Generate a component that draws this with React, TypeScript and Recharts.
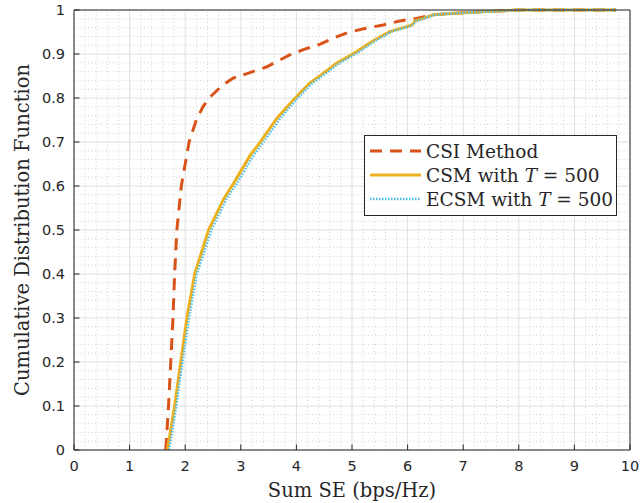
import React from "react";
import {
  LineChart,
  Line,
  XAxis,
  YAxis,
  CartesianGrid,
  ReferenceLine,
  Legend,
} from "recharts";

// CDF samples
const csiX = [1.65, 1.7, 1.74, 1.78, 1.81, 1.85, 1.89, 1.93, 2.0, 2.07, 2.2, 2.32, 2.43, 2.68, 2.86, 3.1, 3.47, 3.88, 4.15, 4.42, 4.66, 4.93, 5.23, 5.56, 5.86, 6.16, 6.46, 7.0, 7.5, 8.0, 9.75];
const csiY = [0, 0.1, 0.2, 0.3, 0.4, 0.5, 0.55, 0.6, 0.65, 0.7, 0.75, 0.78, 0.8, 0.83, 0.845, 0.855, 0.871, 0.898, 0.911, 0.922, 0.936, 0.949, 0.958, 0.966, 0.975, 0.981, 0.989, 0.994, 0.997, 1, 1];

const csmX = [1.68, 1.81, 1.92, 2.03, 2.17, 2.42, 2.69, 2.87, 3.17, 3.35, 3.65, 3.94, 4.06, 4.24, 4.48, 4.72, 4.93, 5.08, 5.38, 5.68, 5.98, 6.08, 6.13, 6.28, 6.46, 7.0, 7.5, 8.0, 9.75];
const csmY = [0, 0.1, 0.2, 0.3, 0.4, 0.5, 0.57, 0.606, 0.67, 0.7, 0.754, 0.795, 0.811, 0.834, 0.856, 0.879, 0.894, 0.905, 0.93, 0.951, 0.962, 0.966, 0.975, 0.981, 0.989, 0.994, 0.997, 1, 1];

const ecsmX = [1.71, 1.84, 1.95, 2.07, 2.21, 2.47, 2.74, 2.93, 3.23, 3.41, 3.71, 3.99, 4.11, 4.29, 4.53, 4.77, 4.98, 5.13, 5.42, 5.72, 6.01, 6.1, 6.15, 6.3, 6.48, 7.02, 7.5, 8.0, 9.75];
const ecsmY = [0, 0.1, 0.2, 0.3, 0.4, 0.5, 0.57, 0.606, 0.67, 0.7, 0.754, 0.795, 0.811, 0.834, 0.856, 0.879, 0.894, 0.905, 0.93, 0.951, 0.962, 0.966, 0.975, 0.981, 0.989, 0.994, 0.997, 1, 1];

const seriesNames = ["CSI Method", "CSM with T = 500", "ECSM with T = 500"];

const xTicks = [0, 1, 2, 3, 4, 5, 6, 7, 8, 9, 10];
const yTicks = [0, 0.1, 0.2, 0.3, 0.4, 0.5, 0.6, 0.7, 0.8, 0.9, 1];

const toPoints = (xs: number[], ys: number[]) =>
  xs.map((x, i) => ({ x, y: ys[i] }));

const series = [
  { name: seriesNames[0], data: toPoints(csiX, csiY), color: "#D95319", width: 3, dash: "12 8" },
  { name: seriesNames[1], data: toPoints(csmX, csmY), color: "#EDB120", width: 3, dash: undefined },
  { name: seriesNames[2], data: toPoints(ecsmX, ecsmY), color: "#4DBEEE", width: 2.5, dash: "1.5 1.5" },
];

// minor grid (MATLAB style dotted)
const minorX = Array.from({ length: 50 }, (_, i) => i)
  .filter((i) => i % 5 !== 0)
  .map((i) => +(i * 0.2).toFixed(2));
const minorY = Array.from({ length: 50 }, (_, i) => i)
  .filter((i) => i % 5 !== 0)
  .map((i) => +(i * 0.02).toFixed(2));

const AXIS = "#262626";
const TICK = 5.5;
const tickFont = { fontFamily: "DejaVu Sans", fontSize: 14.5, fill: AXIS };
const labelFont = { fontFamily: "DejaVu Serif", fontSize: 19.5, fill: AXIS };
const legendFont = { fontFamily: "DejaVu Serif", fontSize: 18.5, fill: AXIS };

const fmt = (v: number) => String(+v.toFixed(1));

const BottomTick = ({ x, y, payload }: any) => (
  <g>
    <line x1={x} x2={x} y1={y} y2={y - TICK} stroke={AXIS} />
    <text x={x} y={y + 21} textAnchor="middle" {...tickFont}>
      {fmt(payload.value)}
    </text>
  </g>
);

const LeftTick = ({ x, y, payload }: any) => (
  <g>
    <line x1={x} x2={x + TICK} y1={y} y2={y} stroke={AXIS} />
    <text x={x - 9} y={y + 5.3} textAnchor="end" {...tickFont}>
      {fmt(payload.value)}
    </text>
  </g>
);

const TopTick = ({ x, y }: any) => (
  <line x1={x} x2={x} y1={y} y2={y + TICK} stroke={AXIS} />
);

const RightTick = ({ x, y }: any) => (
  <line x1={x} x2={x - TICK} y1={y} y2={y} stroke={AXIS} />
);

const renderName = (name: string) =>
  name.split(/(\bT\b)/).map((part, i) =>
    part === "T" ? (
      <tspan key={i} fontStyle="italic">
        {part}
      </tspan>
    ) : (
      <tspan key={i}>{part}</tspan>
    )
  );

const LegendBox = () => (
  <svg width={254} height={82} style={{ display: "block" }}>
    <rect x={0.5} y={0.5} width={252} height={80} fill="#fff" stroke={AXIS} />
    {series.map((s, i) => {
      const cy = 16 + i * 24;
      return (
        <g key={s.name}>
          <line
            x1={6}
            x2={57}
            y1={cy}
            y2={cy}
            stroke={s.color}
            strokeWidth={s.width}
            strokeDasharray={s.dash}
          />
          <text x={62} y={cy + 7} {...legendFont}>
            {renderName(s.name)}
          </text>
        </g>
      );
    })}
  </svg>
);

export default function App() {
  return (
    <div style={{ width: 641, height: 503 }}>
      <style>{"body{margin:0}"}</style>
      <LineChart
        width={641}
        height={503}
        margin={{ top: 9, right: 10, bottom: 0, left: 0 }}
      >
        <CartesianGrid xAxisId="b" yAxisId="l" stroke="#e0e0e0" />
        {minorX.map((v) => (
          <ReferenceLine
            key={"mx" + v}
            xAxisId="b"
            yAxisId="l"
            x={v}
            stroke="#d2d2d2"
            strokeDasharray="1 2.5"
          />
        ))}
        {minorY.map((v) => (
          <ReferenceLine
            key={"my" + v}
            xAxisId="b"
            yAxisId="l"
            y={v}
            stroke="#d2d2d2"
            strokeDasharray="1 2.5"
          />
        ))}
        <XAxis
          xAxisId="b"
          type="number"
          dataKey="x"
          domain={[0, 10]}
          ticks={xTicks}
          height={53}
          tickSize={0}
          tickMargin={0}
          stroke={AXIS}
          tick={<BottomTick />}
          label={{
            value: "Sum SE (bps/Hz)",
            position: "insideBottom",
            offset: 6,
            style: labelFont,
          }}
        />
        <XAxis
          xAxisId="t"
          orientation="top"
          type="number"
          dataKey="x"
          domain={[0, 10]}
          ticks={xTicks}
          height={1}
          tickSize={0}
          tickMargin={0}
          stroke={AXIS}
          tick={<TopTick />}
        />
        <YAxis
          yAxisId="l"
          type="number"
          domain={[0, 1]}
          ticks={yTicks}
          width={74}
          tickSize={0}
          tickMargin={0}
          stroke={AXIS}
          tick={<LeftTick />}
          label={{
            value: "Cumulative Distribution Function",
            angle: -90,
            position: "insideLeft",
            offset: 22,
            textAnchor: "middle",
            style: { ...labelFont, textAnchor: "middle" },
          }}
        />
        <YAxis
          yAxisId="r"
          orientation="right"
          type="number"
          domain={[0, 1]}
          ticks={yTicks}
          width={1}
          tickSize={0}
          tickMargin={0}
          stroke={AXIS}
          tick={<RightTick />}
        />
        {series.map((s) => (
          <Line
            key={s.name}
            xAxisId="b"
            yAxisId="l"
            data={s.data}
            dataKey="y"
            name={s.name}
            type="linear"
            stroke={s.color}
            strokeWidth={s.width}
            strokeDasharray={s.dash}
            dot={false}
            activeDot={false}
            isAnimationActive={false}
          />
        ))}
        <Legend
          layout="vertical"
          align="center"
          verticalAlign="middle"
          content={<LegendBox />}
          wrapperStyle={{ left: 364, top: 135, width: 254, height: 82 }}
        />
      </LineChart>
    </div>
  );
}
